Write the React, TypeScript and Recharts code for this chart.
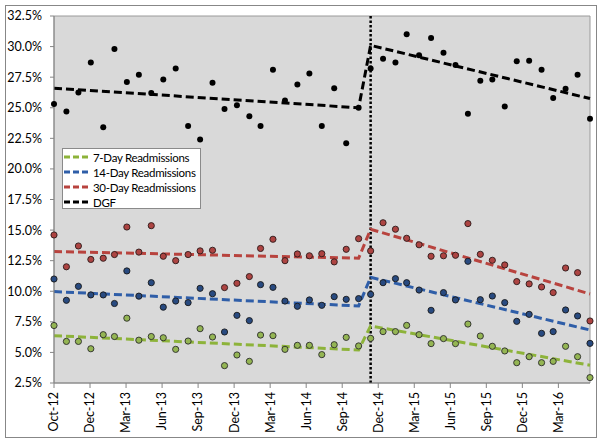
import React from "react";
import {
  ComposedChart,
  Line,
  XAxis,
  YAxis,
  CartesianGrid,
  ReferenceLine,
  ReferenceArea,
} from "recharts";

// Monthly periods (first of month)
const months = [
  "2012-10", "2012-11", "2012-12",
  "2013-01", "2013-02", "2013-03", "2013-04", "2013-05", "2013-06",
  "2013-07", "2013-08", "2013-09", "2013-10", "2013-11", "2013-12",
  "2014-01", "2014-02", "2014-03", "2014-04", "2014-05", "2014-06",
  "2014-07", "2014-08", "2014-09", "2014-10", "2014-11", "2014-12",
  "2015-01", "2015-02", "2015-03", "2015-04", "2015-05", "2015-06",
  "2015-07", "2015-08", "2015-09", "2015-10", "2015-11", "2015-12",
  "2016-01", "2016-02", "2016-03", "2016-04", "2016-05", "2016-06",
];

// Observed rates (%)
const readmit7 = [
  7.2, 5.9, 5.9, 5.3, 6.45, 6.3, 7.8, 6.0, 6.3, 6.2, 5.25, 5.93, 6.94, 6.26,
  3.92, 4.79, 4.27, 6.42, 6.37, 5.25, 5.58, 5.58, 4.82, 5.63, 6.23, 5.53,
  6.15, 6.7, 6.7, 7.21, 6.45, 5.72, 6.13, 5.72, 7.32, 6.34, 5.5, 5.12, 4.16,
  4.65, 4.16, 4.27, 5.5, 4.65, 2.94,
];
const readmit14 = [
  11.0, 9.26, 10.4, 9.7, 9.7, 9.0, 11.66, 9.6, 10.7, 8.7, 9.2, 9.07, 10.24,
  9.8, 6.67, 8.03, 7.6, 10.54, 10.32, 9.2, 8.77, 9.29, 8.85, 9.56, 9.34, 9.4,
  9.75, 10.7, 11.03, 10.7, 10.1, 8.44, 9.89, 9.29, 12.45, 9.31, 9.61, 9.07,
  7.54, 8.11, 6.56, 6.7, 8.47, 7.98, 5.74,
];
const readmit30 = [
  14.6, 12.0, 13.7, 12.6, 12.7, 13.0, 15.25, 13.2, 15.36, 12.86, 12.5, 13.0,
  13.3, 13.35, 10.3, 10.65, 11.2, 13.5, 14.25, 12.5, 13.05, 12.9, 13.07, 12.4,
  13.43, 14.3, 13.3, 15.6, 15.07, 14.33, 13.8, 12.86, 12.9, 12.94, 15.53,
  13.02, 12.53, 12.15, 10.79, 10.6, 10.35, 9.89, 11.9, 11.52, 7.57,
];
const dgfRate = [
  25.3, 24.7, 26.25, 28.7, 23.4, 29.8, 27.1, 27.7, 26.2, 27.3, 28.2, 23.5,
  22.4, 27.05, 24.9, 25.2, 24.3, 23.5, 28.1, 25.6, 26.9, 27.8, 23.5, 26.6,
  22.1, 25.0, 28.2, 29.0, 28.7, 31.0, 29.3, 30.7, 29.5, 28.5, 24.5, 27.2,
  27.3, 25.1, 28.8, 28.85, 28.1, 25.8, 26.55, 27.7, 24.1,
];

// Segmented trend lines: values at the segment endpoints only
const trendAt = [0, 25, 26, 44];
const trend7 = [6.37, 5.2, 7.16, 3.95];
const trend14 = [9.97, 8.8, 11.14, 6.83];
const trend30 = [13.25, 12.7, 15.07, 9.78];
const trendDgf = [26.6, 25.0, 30.1, 25.75];

const breakMonth = "2014-12";

const xTickLabels = [
  "Oct-12", "Dec-12", "Mar-13", "Jun-13", "Sep-13", "Dec-13", "Mar-14",
  "Jun-14", "Sep-14", "Dec-14", "Mar-15", "Jun-15", "Sep-15", "Dec-15",
  "Mar-16",
];
const yTicks = [2.5, 5, 7.5, 10, 12.5, 15, 17.5, 20, 22.5, 25, 27.5, 30, 32.5];

const DAY = 86400000;
const origin = Date.UTC(2012, 9, 1);
const dayOf = (m: string) => {
  const [y, mo] = m.split("-").map(Number);
  return Math.round((Date.UTC(y, mo - 1, 1) - origin) / DAY);
};

const xTicks = xTickLabels.map((_, k) => k * 90);
const maxDay = dayOf(months[months.length - 1]);

const rows = months.map((m, i) => {
  const k = trendAt.indexOf(i);
  return {
    t: dayOf(m),
    p7: readmit7[i],
    p14: readmit14[i],
    p30: readmit30[i],
    pd: dgfRate[i],
    t7: k >= 0 ? trend7[k] : null,
    t14: k >= 0 ? trend14[k] : null,
    t30: k >= 0 ? trend30[k] : null,
    td: k >= 0 ? trendDgf[k] : null,
  };
});

const FONT = "Lato, 'Open Sans', sans-serif";

const legendItems = [
  { name: "7-Day Readmissions", color: "#8db33a" },
  { name: "14-Day Readmissions", color: "#2f5ea8" },
  { name: "30-Day Readmissions", color: "#b8433e" },
  { name: "DGF", color: "#000000" },
];

const XTick = (props: any) => {
  const { x, y, payload } = props;
  const k = xTicks.indexOf(payload.value);
  return (
    <g transform={`translate(${x},${y})`}>
      <text
        transform="rotate(-90)"
        textAnchor="end"
        dy="0.35em"
        fontSize={12.5}
        fontFamily={FONT}
        fill="#000"
      >
        {k >= 0 ? xTickLabels[k] : ""}
      </text>
    </g>
  );
};

export default function App() {
  return (
    <div
      style={{
        position: "absolute",
        left: 0,
        top: 0,
        width: 604,
        height: 442,
        background: "#fff",
      }}
    >
      <div
        style={{
          position: "absolute",
          left: 5,
          top: 5,
          width: 590,
          height: 431,
          border: "1px solid #878787",
        }}
      />
      <div style={{ position: "absolute", left: 0, top: 0 }}>
        <ComposedChart
          width={604}
          height={442}
          data={rows}
          margin={{ top: 16, right: 14, left: 0, bottom: 0 }}
        >
          <CartesianGrid
            fill="#d9d9d9"
            horizontal={false}
            vertical={false}
          />
          <XAxis
            dataKey="t"
            type="number"
            domain={[0, maxDay]}
            ticks={xTicks}
            interval={0}
            height={59}
            tickSize={5}
            tickMargin={4}
            tick={<XTick />}
            stroke="#868686"
            tickLine={{ stroke: "#868686" }}
          />
          <YAxis
            type="number"
            domain={[2.5, 32.5]}
            ticks={yTicks}
            interval={0}
            width={54}
            tickSize={4}
            tickMargin={8}
            tickFormatter={(v: number) => v.toFixed(1) + "%"}
            tick={{ fontSize: 12.5, fontFamily: FONT, fill: "#000" }}
            stroke="#868686"
            tickLine={{ stroke: "#868686" }}
          />
          <ReferenceArea
            x1={0}
            x2={maxDay}
            y1={2.5}
            y2={32.5}
            fill="none"
            stroke="#9a9a9a"
            strokeWidth={1}
          />
          <ReferenceLine
            x={dayOf(breakMonth)}
            stroke="#000"
            strokeWidth={2.5}
            strokeDasharray="2.5 2"
          />
          <Line
            dataKey="t7"
            type="linear"
            stroke="#8db33a"
            strokeWidth={3}
            strokeDasharray="8 4"
            dot={false}
            activeDot={false}
            connectNulls
            isAnimationActive={false}
          />
          <Line
            dataKey="t14"
            type="linear"
            stroke="#2f5ea8"
            strokeWidth={3}
            strokeDasharray="8 4"
            dot={false}
            activeDot={false}
            connectNulls
            isAnimationActive={false}
          />
          <Line
            dataKey="t30"
            type="linear"
            stroke="#b8433e"
            strokeWidth={3}
            strokeDasharray="8 4"
            dot={false}
            activeDot={false}
            connectNulls
            isAnimationActive={false}
          />
          <Line
            dataKey="td"
            type="linear"
            stroke="#000"
            strokeWidth={3}
            strokeDasharray="8 4"
            dot={false}
            activeDot={false}
            connectNulls
            isAnimationActive={false}
          />
          <Line
            dataKey="p7"
            stroke="none"
            dot={{ r: 3.1, fill: "#94b553", stroke: "#2b2b2b", strokeWidth: 0.9 }}
            activeDot={false}
            isAnimationActive={false}
          />
          <Line
            dataKey="p14"
            stroke="none"
            dot={{ r: 3.1, fill: "#284a80", stroke: "#1a1a1a", strokeWidth: 0.9 }}
            activeDot={false}
            isAnimationActive={false}
          />
          <Line
            dataKey="p30"
            stroke="none"
            dot={{ r: 3.1, fill: "#ad4442", stroke: "#2b1a1a", strokeWidth: 0.9 }}
            activeDot={false}
            isAnimationActive={false}
          />
          <Line
            dataKey="pd"
            stroke="none"
            dot={{ r: 3, fill: "#000", stroke: "none" }}
            activeDot={false}
            isAnimationActive={false}
          />
        </ComposedChart>
      </div>
      <div
        style={{
          position: "absolute",
          left: 62,
          top: 148,
          width: 137,
          height: 59,
          background: "#fff",
          border: "1px solid #8a8a8a",
          fontFamily: FONT,
        }}
      >
        {legendItems.map((it, i) => (
          <div
            key={it.name}
            style={{
              position: "absolute",
              left: 1,
              top: 0.5 + i * 15,
              height: 15,
              display: "flex",
              alignItems: "center",
              whiteSpace: "nowrap",
            }}
          >
            <svg width={27} height={6} style={{ display: "block" }}>
              <line
                x1={0}
                y1={3}
                x2={27}
                y2={3}
                stroke={it.color}
                strokeWidth={3}
                strokeDasharray="6 3"
              />
            </svg>
            <span
              style={{
                marginLeft: 2,
                fontSize: 11.5,
                letterSpacing: "-0.3px",
                color: "#000",
                lineHeight: "15px",
              }}
            >
              {it.name}
            </span>
          </div>
        ))}
      </div>
    </div>
  );
}
